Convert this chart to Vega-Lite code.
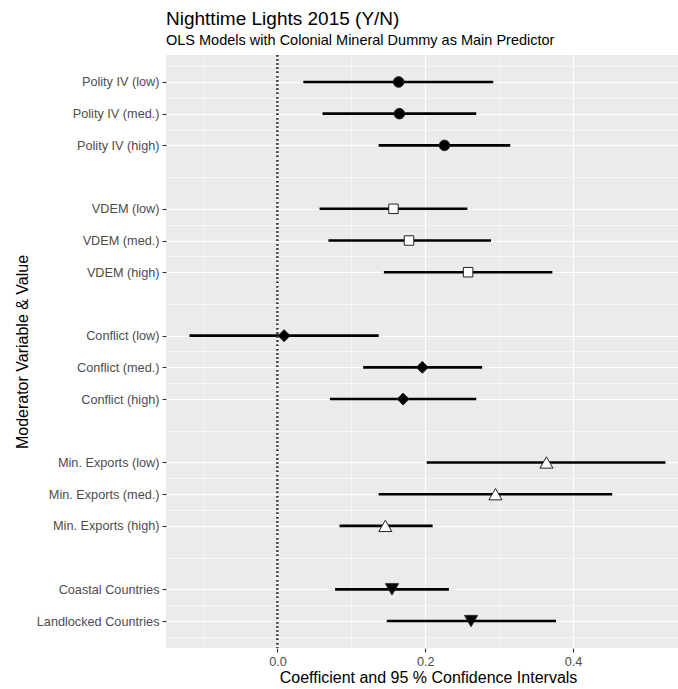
{
  "$schema": "https://vega.github.io/schema/vega-lite/v6.json",
  "width": 512,
  "height": 593,
  "autosize": {"type": "none"},
  "padding": {"left": 166, "top": 55, "right": 0, "bottom": 41},
  "background": "white",
  "title": {
    "text": "Nighttime Lights 2015 (Y/N)",
    "subtitle": "OLS Models with Colonial Mineral Dummy as Main Predictor",
    "anchor": "start",
    "frame": "group",
    "font": "Liberation Sans",
    "fontSize": 19,
    "fontWeight": "normal",
    "color": "black",
    "subtitleFont": "Liberation Sans",
    "subtitleFontSize": 14.5,
    "subtitleColor": "black",
    "offset": 7,
    "subtitlePadding": 5
  },
  "config": {"view": {"fill": "#EBEBEB", "stroke": null}, "font": "Liberation Sans"},
  "resolve": {"axis": {"y": "independent"}},
  "data": {
    "values": [
      {"label": "Polity IV (low)", "pos": 1, "group": "Polity", "est": 0.164, "lo": 0.035, "hi": 0.292},
      {"label": "Polity IV (med.)", "pos": 2, "group": "Polity", "est": 0.165, "lo": 0.061, "hi": 0.269},
      {"label": "Polity IV (high)", "pos": 3, "group": "Polity", "est": 0.226, "lo": 0.137, "hi": 0.315},
      {"label": "VDEM (low)", "pos": 5, "group": "VDEM", "est": 0.157, "lo": 0.057, "hi": 0.257},
      {"label": "VDEM (med.)", "pos": 6, "group": "VDEM", "est": 0.178, "lo": 0.069, "hi": 0.289},
      {"label": "VDEM (high)", "pos": 7, "group": "VDEM", "est": 0.258, "lo": 0.144, "hi": 0.372},
      {"label": "Conflict (low)", "pos": 9, "group": "Conflict", "est": 0.009, "lo": -0.119, "hi": 0.137},
      {"label": "Conflict (med.)", "pos": 10, "group": "Conflict", "est": 0.196, "lo": 0.116, "hi": 0.277},
      {"label": "Conflict (high)", "pos": 11, "group": "Conflict", "est": 0.170, "lo": 0.071, "hi": 0.269},
      {"label": "Min. Exports (low)", "pos": 13, "group": "MinExp", "est": 0.364, "lo": 0.202, "hi": 0.525},
      {"label": "Min. Exports (med.)", "pos": 14, "group": "MinExp", "est": 0.295, "lo": 0.137, "hi": 0.453},
      {"label": "Min. Exports (high)", "pos": 15, "group": "MinExp", "est": 0.146, "lo": 0.084, "hi": 0.210},
      {"label": "Coastal Countries", "pos": 17, "group": "Geo", "est": 0.155, "lo": 0.078, "hi": 0.232},
      {"label": "Landlocked Countries", "pos": 18, "group": "Geo", "est": 0.262, "lo": 0.148, "hi": 0.377}
    ]
  },
  "layer": [
    {
      "mark": {"type": "rule", "strokeWidth": 2.6, "color": "black"},
      "encoding": {
        "x": {
          "field": "lo",
          "type": "quantitative",
          "scale": {"domain": [-0.1508, 0.542], "zero": false, "nice": false},
          "axis": {
            "values": [-0.1, 0, 0.1, 0.2, 0.3, 0.4],
            "labelExpr": "abs(round(datum.value*10)) % 2 === 0 ? format(datum.value, '.1f') : ''",
            "labelOverlap": false,
            "title": "Coefficient and 95 % Confidence Intervals",
            "titleX": 262,
            "grid": true,
            "gridColor": "white",
            "gridWidth": {"condition": {"test": "abs(round(datum.value*10)) % 2 === 0", "value": 1.1}, "value": 0.55},
            "tickColor": {"condition": {"test": "abs(round(datum.value*10)) % 2 === 0", "value": "#333333"}, "value": "transparent"},
            "tickSize": 4,
            "tickWidth": 1.1,
            "domain": false,
            "labelFont": "Liberation Sans",
            "labelFontSize": 12.7,
            "labelColor": "#4D4D4D",
            "labelPadding": 3,
            "titleFont": "Liberation Sans",
            "titleFontSize": 16,
            "titleFontWeight": "normal",
            "titleColor": "black",
            "titlePadding": 2
          }
        },
        "x2": {"field": "hi"},
        "y": {
          "field": "pos",
          "type": "quantitative",
          "scale": {"domain": [0.15, 18.85], "reverse": true, "zero": false, "nice": false},
          "axis": {
            "orient": "left",
            "values": [1, 2, 3, 5, 6, 7, 9, 10, 11, 13, 14, 15, 17, 18],
            "labelExpr": "datum.value == 1 ? 'Polity IV (low)' : datum.value == 2 ? 'Polity IV (med.)' : datum.value == 3 ? 'Polity IV (high)' : datum.value == 5 ? 'VDEM (low)' : datum.value == 6 ? 'VDEM (med.)' : datum.value == 7 ? 'VDEM (high)' : datum.value == 9 ? 'Conflict (low)' : datum.value == 10 ? 'Conflict (med.)' : datum.value == 11 ? 'Conflict (high)' : datum.value == 13 ? 'Min. Exports (low)' : datum.value == 14 ? 'Min. Exports (med.)' : datum.value == 15 ? 'Min. Exports (high)' : datum.value == 17 ? 'Coastal Countries' : datum.value == 18 ? 'Landlocked Countries' : ''",
            "labelOverlap": false,
            "title": "Moderator Variable & Value",
            "titlePadding": 6,
            "grid": true,
            "gridColor": "white",
            "gridWidth": 1.1,
            "tickColor": "#333333",
            "tickSize": 4,
            "tickWidth": 1.1,
            "domain": false,
            "labelFont": "Liberation Sans",
            "labelFontSize": 12.7,
            "labelColor": "#4D4D4D",
            "labelPadding": 3,
            "titleFont": "Liberation Sans",
            "titleFontSize": 16,
            "titleFontWeight": "normal",
            "titleColor": "black"
          }
        }
      }
    },
    {
      "mark": {"type": "rule", "strokeDash": [1.2, 3], "color": "#444444", "strokeWidth": 1.3},
      "encoding": {"x": {"datum": 0, "type": "quantitative"}}
    },
    {
      "transform": [{"filter": "datum.group === 'Polity'"}],
      "mark": {"type": "point", "shape": "circle", "filled": true, "fill": "black", "stroke": "#222222", "strokeWidth": 1, "opacity": 1, "size": 112},
      "encoding": {
        "x": {"field": "est", "type": "quantitative"},
        "y": {
          "field": "pos",
          "type": "quantitative",
          "axis": {
            "orient": "left",
            "values": [0.5, 1.5, 2.5, 4, 5.5, 6.5, 8, 9.5, 10.5, 12, 13.5, 14.5, 16, 17.5, 18.5],
            "labels": false,
            "ticks": false,
            "domain": false,
            "title": null,
            "grid": true,
            "gridColor": "white",
            "gridWidth": 0.55
          }
        }
      }
    },
    {
      "transform": [{"filter": "datum.group === 'VDEM'"}],
      "mark": {"type": "point", "shape": "square", "filled": true, "fill": "white", "stroke": "#222222", "strokeWidth": 1, "opacity": 1, "size": 90},
      "encoding": {
        "x": {"field": "est", "type": "quantitative"},
        "y": {"field": "pos", "type": "quantitative", "axis": null}
      }
    },
    {
      "transform": [{"filter": "datum.group === 'Conflict'"}],
      "mark": {"type": "point", "shape": "diamond", "filled": true, "fill": "black", "stroke": "#222222", "strokeWidth": 1, "opacity": 1, "size": 144},
      "encoding": {
        "x": {"field": "est", "type": "quantitative"},
        "y": {"field": "pos", "type": "quantitative", "axis": null}
      }
    },
    {
      "transform": [{"filter": "datum.group === 'MinExp'"}],
      "mark": {"type": "point", "shape": "triangle-up", "filled": true, "fill": "white", "stroke": "#222222", "strokeWidth": 1, "opacity": 1, "size": 170},
      "encoding": {
        "x": {"field": "est", "type": "quantitative"},
        "y": {"field": "pos", "type": "quantitative", "axis": null}
      }
    },
    {
      "transform": [{"filter": "datum.group === 'Geo'"}],
      "mark": {"type": "point", "shape": "triangle-down", "filled": true, "fill": "black", "stroke": "#222222", "strokeWidth": 1, "opacity": 1, "size": 170},
      "encoding": {
        "x": {"field": "est", "type": "quantitative"},
        "y": {"field": "pos", "type": "quantitative", "axis": null}
      }
    }
  ]
}
